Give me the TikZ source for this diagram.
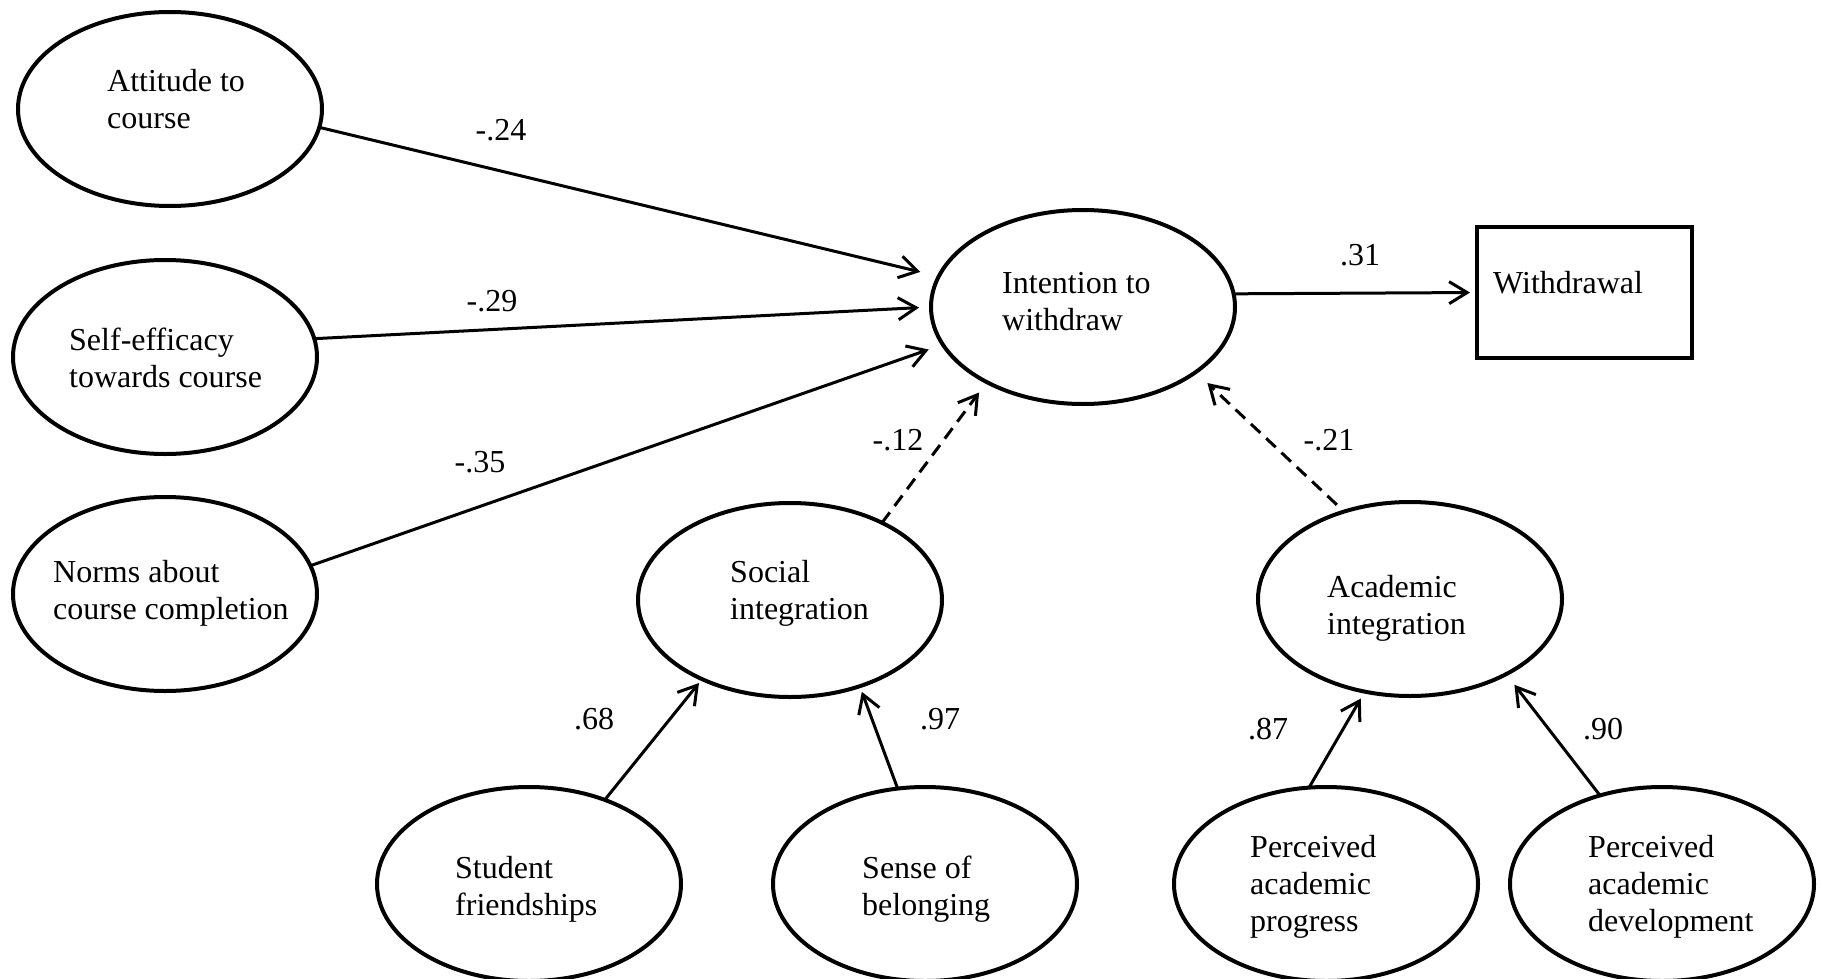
\documentclass[tikz,border=0pt]{standalone}
\usepackage{fontspec}
\setmainfont{Liberation Serif}
\usetikzlibrary{shapes.geometric,arrows.meta}
\newcommand\mltext[1]{\begin{tabular}[t]{@{}l@{}}#1\end{tabular}}
\begin{document}
\begin{tikzpicture}[x=1pt,y=-1pt,
  lat/.style={ellipse,draw,line width=4pt,minimum width=304pt,minimum height=194pt,inner sep=0pt,outer sep=0pt},
  obs/.style={rectangle,draw,line width=4pt,minimum width=215pt,minimum height=131pt,inner sep=0pt,outer sep=0pt},
  txt/.style={anchor=base west,inner sep=0pt,font=\fontsize{32}{37}\selectfont},
  coef/.style={anchor=base,inner sep=0pt,font=\fontsize{32}{37}\selectfont},
  conn/.style={line width=3pt,-{Straight Barb[length=18pt,width=22pt]}},
  dconn/.style={conn,dash pattern=on 13pt off 8pt}]
\useasboundingbox (0,0) rectangle (1822,979);
% latent / observed variables
\node[lat] (att)  at (170,109) {};
\node[lat] (self) at (165,357) {};
\node[lat] (norm) at (165,594) {};
\node[lat] (int)  at (1083,307) {};
\node[obs] (wd)   at (1584.5,292.5) {};
\node[lat] (soc)  at (790,600) {};
\node[lat] (acad) at (1410,599) {};
\node[lat] (stu)  at (529,884) {};
\node[lat] (sen)  at (925,884) {};
\node[lat] (prog) at (1326,884) {};
\node[lat] (dev)  at (1662,884) {};
% texts
\node[txt] (attT)  at (107,92)   {\mltext{Attitude to\\course}};
\node[txt] (selfT) at (69,350)   {\mltext{Self-efficacy\\towards course}};
\node[txt] (normT) at (53,582)   {\mltext{Norms about\\course completion}};
\node[txt] (intT)  at (1002,293) {\mltext{Intention to\\withdraw}};
\node[txt] (wdT)   at (1493,293) {Withdrawal};
\node[txt] (socT)  at (730,582)  {\mltext{Social\\integration}};
\node[txt] (acadT) at (1327,597) {\mltext{Academic\\integration}};
\node[txt] (stuT)  at (455,878)  {\mltext{Student\\friendships}};
\node[txt] (senT)  at (862,878)  {\mltext{Sense of\\belonging}};
\node[txt] (progT) at (1250,857) {\mltext{Perceived\\academic\\progress}};
\node[txt] (devT)  at (1588,857) {\mltext{Perceived\\academic\\development}};
% connectors
\draw[conn,shorten >=19pt] (att.-7.8) -- (int.168.8);
\draw[conn,shorten >=12pt] (self.7.5) -- (int.180);
\draw[conn,shorten >=15pt] (norm.11.2) -- (int.195.3);
\draw[conn,shorten >=7pt] (int.5.3) -- (wd.west);
\draw[dconn,shorten >=13pt] (soc.40.3) -- (int.218.5);
\draw[dconn,shorten <=10pt,shorten >=16pt] (acad.127) -- (int.-30);
\draw[conn,shorten >=5pt] (stu.48.9) -- (soc.222);
\draw[conn,shorten >=6pt] (sen.106.4) -- (soc.-51);
\draw[conn,shorten >=8pt] (prog.100.7) -- (acad.244.8);
\draw[conn,shorten >=13.5pt] (dev.125.9) -- (acad.-38.1);
% coefficients
\node[coef] (c1)  at (501,140)  {-.24};
\node[coef] (c2)  at (492,311)  {-.29};
\node[coef] (c3)  at (480,472)  {-.35};
\node[coef] (c4)  at (1360,265) {.31};
\node[coef] (c5)  at (898,450)  {-.12};
\node[coef] (c6)  at (1329,450) {-.21};
\node[coef] (c7)  at (594,729)  {.68};
\node[coef] (c8)  at (940,729)  {.97};
\node[coef] (c9)  at (1268,739) {.87};
\node[coef] (c10) at (1603,739) {.90};
\end{tikzpicture}
\end{document}
